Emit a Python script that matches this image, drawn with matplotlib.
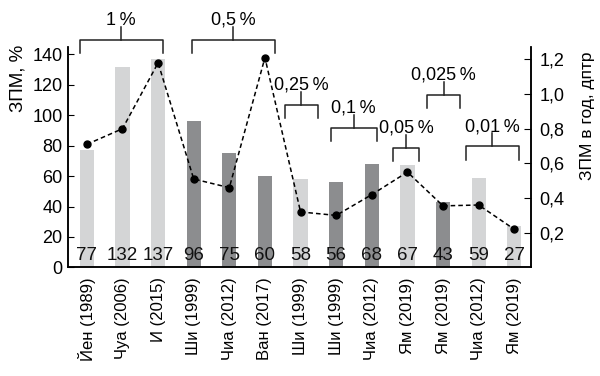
import matplotlib
matplotlib.use("Agg")
import matplotlib.pyplot as plt
import numpy as np

plt.rcParams['font.family'] = ['Liberation Sans', 'DejaVu Sans']

labels = ["Йен (1989)", "Чуа (2006)", "И (2015)", "Ши (1999)", "Чиа (2012)", "Ван (2017)",
          "Ши (1999)", "Ши (1999)", "Чиа (2012)", "Ям (2019)", "Ям (2019)", "Чиа (2012)", "Ям (2019)"]
bar_values = [77, 132, 137, 96, 75, 60, 58, 56, 68, 67, 43, 59, 27]
dark = [False, False, False, True, True, True, False, True, True, False, True, False, False]
rate_values = [0.71, 0.80, 1.18, 0.51, 0.46, 1.21, 0.32, 0.30, 0.42, 0.55, 0.355, 0.36, 0.22]

# concentration groups: (first index, last index, label)
groups = [(0, 2, "1\u2009%"), (3, 5, "0,5\u2009%"), (6, 6, "0,25\u2009%"), (7, 8, "0,1\u2009%"),
          (9, 9, "0,05\u2009%"), (10, 10, "0,025\u2009%"), (11, 12, "0,01\u2009%")]
# bracket vertical placement (left-axis units): horizontal bar level
group_levels = [149.5, 149.5, 106.5, 91.5, 78.5, 113.5, 79.5]
group_pad = [(0.2, 0.13), (0.05, 0.28), (0.44, 0.49), (0.15, 0.14), (0.41, 0.33), (0.44, 0.48), (0.36, 0.13)]

fig = plt.figure(figsize=(6, 3.76), dpi=100)
ax = fig.add_axes([0.1133, 0.2888, 0.7717, 0.586])
ax2 = ax.twinx()

x = np.arange(len(bar_values))
light_c = "#d4d5d6"
dark_c = "#8c8d8f"
colors = [dark_c if d else light_c for d in dark]
ax.bar(x, bar_values, width=0.4, color=colors, zorder=1)

for xi, v in zip(x, bar_values):
    ax.text(xi, 7.5, str(v), ha="center", va="center", fontsize=13.5, color="#111111", zorder=3)

ax2.plot(x, rate_values, linestyle=(0, (3, 2)), color="black", linewidth=1.1,
         marker="o", markersize=5, zorder=4)

ax.set_xlim(-0.53, 12.47)
ax.set_ylim(0, 144.8)
ax2.set_ylim(0, 1.271)
ax.set_yticks(np.arange(0, 141, 20))
ax2.set_yticks([0.2, 0.4, 0.6, 0.8, 1.0, 1.2])
ax2.set_yticklabels(["0,2", "0,4", "0,6", "0,8", "1,0", "1,2"])
ax.set_xticks(x)
ax.set_xticklabels(labels, rotation=90, fontsize=12)
ax.tick_params(axis="x", length=0, pad=7)
ax.tick_params(axis="y", direction="in", length=4, labelsize=13, pad=4)
ax2.tick_params(axis="y", direction="in", length=5, labelsize=13, pad=6)

for a in (ax, ax2):
    a.spines["top"].set_visible(False)
    for s in ("left", "right", "bottom"):
        a.spines[s].set_linewidth(1.1)
ax2.patch.set_visible(False)

ax.set_ylabel("ЗПМ, %", fontsize=13.5, labelpad=3)
ax.yaxis.set_label_coords(-0.09, 0.86)
ax2.set_ylabel("ЗПМ в год, дптр", fontsize=12.5, labelpad=8)
ax2.yaxis.set_label_coords(1.105, 0.69)

# brackets (left axis units)
drop = 8.6
stem = 8.6
for (i0, i1, lab), lvl, (pl, pr) in zip(groups, group_levels, group_pad):
    xl = i0 - pl
    xr = i1 + pr
    xc = (xl + xr) / 2
    ax.plot([xl, xl, xr, xr], [lvl - drop, lvl, lvl, lvl - drop], color="#222222",
            linewidth=1.1, clip_on=False, zorder=5)
    ax.plot([xc, xc], [lvl, lvl + stem], color="#222222", linewidth=1.1, clip_on=False, zorder=5)
    ax.text(xc, lvl + stem + 1.5, lab, ha="center", va="baseline", fontsize=13, clip_on=False)

fig.savefig("out.png", dpi=100)
